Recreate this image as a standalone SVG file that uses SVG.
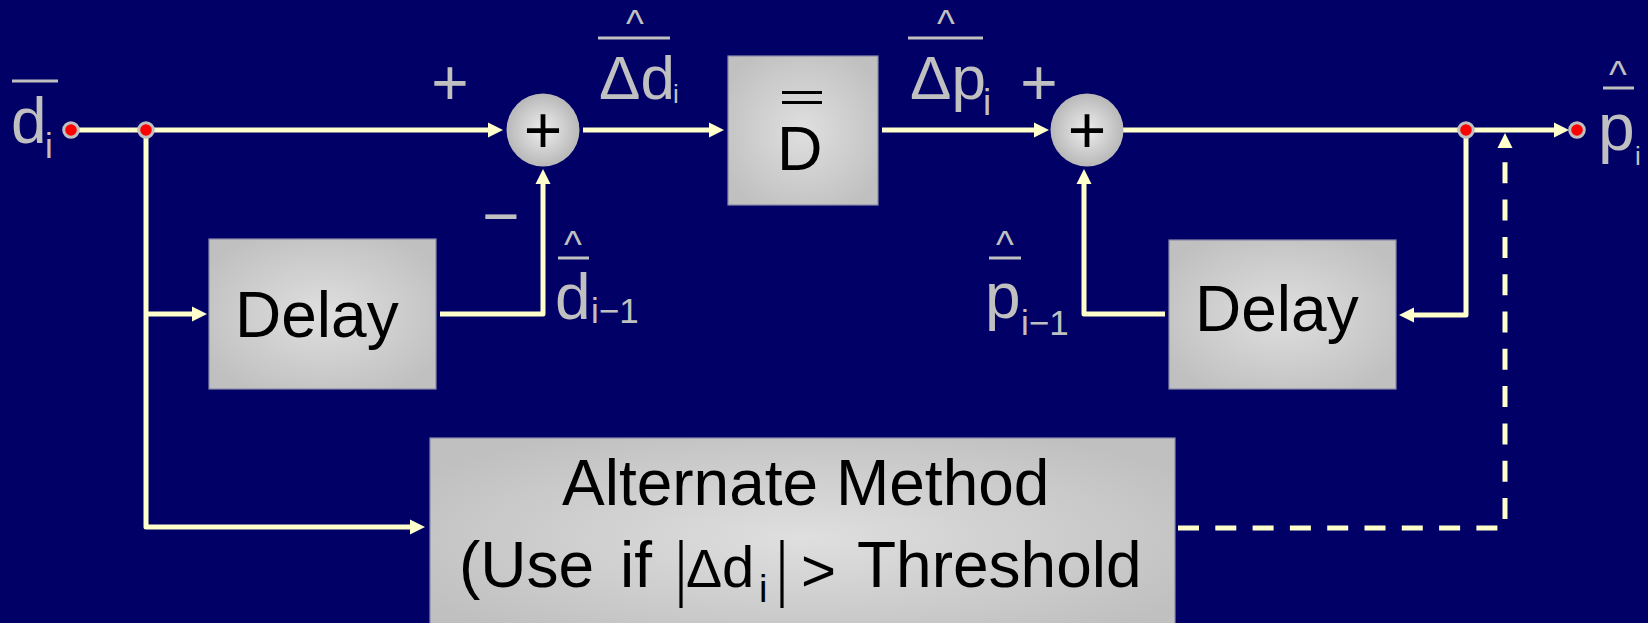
<svg xmlns="http://www.w3.org/2000/svg" width="1648" height="623" viewBox="0 0 1648 623">
<defs>
<radialGradient id="boxg" cx="50%" cy="50%" r="60%">
<stop offset="0" stop-color="#DFDFDF"/>
<stop offset="1" stop-color="#C0C0C0"/>
</radialGradient>
<radialGradient id="sumg" cx="50%" cy="50%" r="50%">
<stop offset="0" stop-color="#EEEEEE"/>
<stop offset="1" stop-color="#B8B8B8"/>
</radialGradient>
<marker id="ah" markerUnits="userSpaceOnUse" markerWidth="15" markerHeight="16" refX="0" refY="7.5" orient="auto" overflow="visible">
<path d="M0,0 L15,7.5 L0,15 z" fill="#FFFFCC"/>
</marker>
</defs>
<style>
.conn{fill:none;stroke:#FFFFCC;stroke-width:5;stroke-linejoin:round}
.dash{fill:none;stroke:#FFFFCC;stroke-width:5;stroke-dasharray:21 16.3}
.box{fill:url(#boxg);stroke:#8A8AA8;stroke-width:1.2}
.sum{fill:url(#sumg)}
.dot{fill:#FF0000;stroke:#C0C0C0;stroke-width:3}
.lbl{font-family:"Liberation Sans",Arial,sans-serif;fill:#C0C0C0}
.blk{font-family:"Liberation Sans",Arial,sans-serif;fill:#000000}
.bar{stroke:#C0C0C0;stroke-width:3}
.kbar{stroke:#000000;stroke-width:3.2}
</style>
<rect x="0" y="0" width="1648" height="623" fill="#000066"/>

<g id="connectors">
<path class="conn" d="M71,130 H488" marker-end="url(#ah)"/>
<path class="conn" d="M146,130 V527 H410" marker-end="url(#ah)"/>
<path class="conn" d="M146,314 H192" marker-end="url(#ah)"/>
<path class="conn" d="M440,314 H543 V184" marker-end="url(#ah)"/>
<path class="conn" d="M583,130 H709" marker-end="url(#ah)"/>
<path class="conn" d="M882,130 H1034" marker-end="url(#ah)"/>
<path class="conn" d="M1123,130 H1554" marker-end="url(#ah)"/>
<path class="conn" d="M1466,130 V315 H1414" marker-end="url(#ah)"/>
<path class="conn" d="M1165,314 H1084 V184" marker-end="url(#ah)"/>
<path class="dash" d="M1178,528 H1500"/>
<path class="dash" d="M1505,519 V148" marker-end="url(#ah)"/>
</g>

<g id="input">
<circle class="dot" cx="71" cy="130" r="7.3"/>
<line class="bar" x1="12" y1="81" x2="58" y2="81"/>
<text class="lbl" x="11" y="143" font-size="64">d<tspan x="45" y="158" font-size="35">i</tspan></text>
</g>

<g id="split">
<circle class="dot" cx="146" cy="130" r="7.3"/>
</g>

<g id="sum1">
<circle class="sum" cx="543" cy="130" r="36.5"/>
<text class="blk" x="543" y="153" font-size="66" text-anchor="middle">+</text>
<text class="lbl" x="450" y="105" font-size="64" text-anchor="middle">+</text>
<text class="lbl" x="501" y="238" font-size="64" text-anchor="middle">−</text>
</g>

<g id="label-dd">
<text class="lbl" x="635" y="37" font-size="38" text-anchor="middle">^</text>
<line class="bar" x1="598" y1="38" x2="670" y2="38"/>
<text class="lbl" x="599" y="99" font-size="62">Δd<tspan x="673" y="103" font-size="26">i</tspan></text>
</g>

<g id="dmatrix">
<rect class="box" x="728" y="56" width="150" height="149"/>
<line class="kbar" x1="782" y1="92.5" x2="822" y2="92.5"/>
<line class="kbar" x1="782" y1="102.5" x2="822" y2="102.5"/>
<text class="blk" x="777" y="170" font-size="63">D</text>
</g>

<g id="label-dp">
<text class="lbl" x="946" y="37" font-size="38" text-anchor="middle">^</text>
<line class="bar" x1="908" y1="38" x2="983" y2="38"/>
<text class="lbl" x="910" y="99" font-size="62">Δp<tspan x="983" y="115" font-size="37">i</tspan></text>
</g>

<g id="sum2">
<circle class="sum" cx="1087" cy="130" r="36.5"/>
<text class="blk" x="1087" y="153" font-size="66" text-anchor="middle">+</text>
<text class="lbl" x="1039" y="105" font-size="64" text-anchor="middle">+</text>
</g>

<g id="delay1">
<rect class="box" x="209" y="239" width="227" height="150"/>
<text class="blk" x="235" y="337" font-size="64">Delay</text>
</g>

<g id="label-d1">
<text class="lbl" x="573" y="258" font-size="38" text-anchor="middle">^</text>
<line class="bar" x1="558" y1="258" x2="589" y2="258"/>
<text class="lbl" x="555" y="319" font-size="64">d<tspan x="591" y="323" font-size="35">i−1</tspan></text>
</g>

<g id="delay2">
<rect class="box" x="1169" y="240" width="227" height="149"/>
<text class="blk" x="1195" y="331" font-size="64">Delay</text>
</g>

<g id="label-p1">
<text class="lbl" x="1005" y="258" font-size="38" text-anchor="middle">^</text>
<line class="bar" x1="989" y1="258" x2="1021" y2="258"/>
<text class="lbl" x="985" y="318" font-size="64">p<tspan x="1021" y="335" font-size="35">i−1</tspan></text>
</g>

<g id="output">
<circle class="dot" cx="1466" cy="130" r="7.3"/>
<circle class="dot" cx="1577" cy="130" r="7.3"/>
<text class="lbl" x="1618" y="88" font-size="38" text-anchor="middle">^</text>
<line class="bar" x1="1603" y1="88" x2="1634" y2="88"/>
<text class="lbl" x="1598" y="150" font-size="66">p<tspan x="1635" y="165" font-size="26">i</tspan></text>
</g>

<g id="alternate">
<rect class="box" x="430" y="438" width="745" height="200"/>
<text class="blk" x="562" y="505" font-size="64">Alternate Method</text>
<text class="blk" x="459" y="587" font-size="64" word-spacing="8">(Use if</text>
<line class="kbar" x1="681" y1="540" x2="681" y2="608"/>
<text class="blk" x="686" y="587" font-size="54">Δ</text>
<text class="blk" x="722" y="587" font-size="58">d<tspan x="759" y="602" font-size="38">i</tspan></text>
<line class="kbar" x1="782" y1="540" x2="782" y2="608"/>
<text class="blk" x="801" y="591" font-size="60">&gt;</text>
<text class="blk" x="857" y="587" font-size="64">Threshold</text>
</g>
</svg>
